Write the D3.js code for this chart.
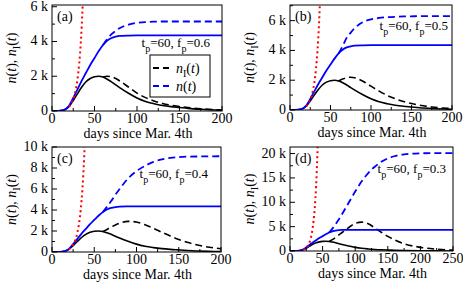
<!DOCTYPE html>
<html>
<head>
<meta charset="utf-8">
<script src="https://cdn.jsdelivr.net/npm/d3@7"></script>
<style>
    body { margin: 0; background: #fff; }
    svg { display: block; }
    text { font-family: "Liberation Serif", "Times New Roman", serif; fill: #000; }
</style>
</head>
<body>
<div id="chart"></div>
<script>
// values in thousands (k)
var solidDays = [0, 5, 10, 15, 20, 25, 30, 35, 40, 45, 50, 55, 60, 65, 70, 75, 80, 90, 100, 110, 120, 130, 140, 150, 160, 175, 200, 225, 250];
var baseN  = [0, 0.005, 0.02, 0.08, 0.3, 0.75, 1.25, 1.75, 2.2, 2.65, 3.05, 3.45, 3.8, 4.05, 4.2, 4.28, 4.32, 4.34, 4.35, 4.35, 4.35, 4.35, 4.35, 4.35, 4.35, 4.35, 4.35, 4.35, 4.35];
var baseNI = [0, 0.005, 0.02, 0.07, 0.25, 0.6, 1.0, 1.38, 1.68, 1.87, 1.97, 2.0, 1.95, 1.83, 1.68, 1.5, 1.33, 1.02, 0.75, 0.55, 0.42, 0.32, 0.25, 0.2, 0.15, 0.1, 0.05, 0.02, 0.01];

var liftDays = [60, 65, 70, 75, 80, 90, 100, 110, 120, 130, 140, 150, 160, 175, 200, 225, 250];
var liftNA  = [3.8, 4.15, 4.42, 4.62, 4.78, 4.97, 5.07, 5.12, 5.14, 5.15, 5.15, 5.15, 5.15, 5.15, 5.15];
var liftNIA = [1.95, 2.0, 1.97, 1.87, 1.72, 1.38, 1.03, 0.77, 0.58, 0.43, 0.33, 0.26, 0.2, 0.13, 0.06];
var liftNB  = [3.8, 4.3, 4.85, 5.2, 5.5, 5.9, 6.08, 6.18, 6.23, 6.26, 6.28, 6.29, 6.3, 6.3, 6.3];
var liftNIB = [1.95, 2.08, 2.17, 2.2, 2.16, 1.93, 1.6, 1.27, 0.98, 0.75, 0.57, 0.43, 0.32, 0.2, 0.1];
var liftNC  = [3.8, 4.3, 4.85, 5.45, 6.0, 7.0, 7.7, 8.2, 8.58, 8.82, 8.96, 9.04, 9.08, 9.1, 9.12];
var liftNIC = [1.95, 2.15, 2.38, 2.58, 2.75, 2.92, 2.85, 2.6, 2.25, 1.88, 1.52, 1.2, 0.93, 0.62, 0.3];
var liftND  = [3.8, 4.6, 5.5, 6.5, 7.6, 9.9, 12.2, 14.3, 16.0, 17.3, 18.3, 19.0, 19.45, 19.85, 20.05, 20.1, 20.1];
var liftNID = [1.95, 2.35, 2.8, 3.3, 3.8, 4.8, 5.7, 5.92, 5.6, 4.75, 3.85, 3.0, 2.3, 1.5, 0.75, 0.38, 0.18];

// early exponential growth (red dotted)
var expDays = [20, 22, 24, 26, 28, 30, 32, 34, 36, 38, 40, 42, 44];
var expN    = [0.25, 0.38, 0.56, 0.83, 1.23, 1.83, 2.72, 4.04, 6.0, 8.9, 13.25, 19.7, 29.3];

var panels = [
    {label: "(a)", fp: "0.6", n: liftNA, ni: liftNIA, xmax: 200, ymax: 6.1, ystep: 2, yminor: 1,
     left: 52, right: 222, top: 5, bottom: 111, annX: 210, annY: 47, legend: true},
    {label: "(b)", fp: "0.5", n: liftNB, ni: liftNIB, xmax: 200, ymax: 7.05, ystep: 2, yminor: 1,
     left: 290, right: 452, top: 5, bottom: 110, annX: 448, annY: 30},
    {label: "(c)", fp: "0.4", n: liftNC, ni: liftNIC, xmax: 200, ymax: 10, ystep: 2, yminor: 1,
     left: 52, right: 221, top: 147, bottom: 252, annX: 208, annY: 178},
    {label: "(d)", fp: "0.3", n: liftND, ni: liftNID, xmax: 250, ymax: 21.35, ystep: 5, yminor: 2.5,
     left: 290, right: 453, top: 147, bottom: 251, annX: 446, annY: 173}
];

var svg = d3.select("#chart").append("svg")
    .attr("width", 463)
    .attr("height", 285);

function zip(xs, ys) {
    return ys.map(function (v, i) { return [xs[i], v]; });
}

function drawPanel(p, k) {
    var x = d3.scaleLinear().domain([0, p.xmax]).range([p.left, p.right]);
    var y = d3.scaleLinear().domain([0, p.ymax]).range([p.bottom, p.top]);
    var line = d3.line()
        .x(function (d) { return x(d[0]); })
        .y(function (d) { return y(d[1]); })
        .curve(d3.curveMonotoneX);

    svg.append("clipPath").attr("id", "clip" + k)
        .append("rect")
        .attr("x", p.left).attr("y", p.top)
        .attr("width", p.right - p.left).attr("height", p.bottom - p.top);

    var g = svg.append("g").attr("clip-path", "url(#clip" + k + ")");

    var base = solidDays.filter(function (d) { return d <= p.xmax; });
    var lift = liftDays.slice(0, p.n.length);

    g.append("path").attr("d", line(zip(base, baseNI.slice(0, base.length))))
        .attr("fill", "none").attr("stroke", "#000").attr("stroke-width", 1.6);
    g.append("path").attr("d", line(zip(lift, p.ni)))
        .attr("fill", "none").attr("stroke", "#000").attr("stroke-width", 1.6)
        .attr("stroke-dasharray", "7,4");
    g.append("path").attr("d", line(zip(base, baseN.slice(0, base.length))))
        .attr("fill", "none").attr("stroke", "#0000ff").attr("stroke-width", 1.8);
    g.append("path").attr("d", line(zip(lift, p.n)))
        .attr("fill", "none").attr("stroke", "#0000ff").attr("stroke-width", 1.8)
        .attr("stroke-dasharray", "7,4");
    g.append("path").attr("d", line(zip(expDays, expN)))
        .attr("fill", "none").attr("stroke", "#ff0000").attr("stroke-width", 2)
        .attr("stroke-dasharray", "2,3");

    // frame
    svg.append("rect")
        .attr("x", p.left).attr("y", p.top)
        .attr("width", p.right - p.left).attr("height", p.bottom - p.top)
        .attr("fill", "none").attr("stroke", "#000").attr("stroke-width", 1);

    // inward ticks
    var xt = d3.range(0, p.xmax + 0.1, 50);
    var xm = d3.range(25, p.xmax, 50);
    var yt = d3.range(0, p.ymax + 0.01, p.ystep);
    var ym = d3.range(p.yminor, p.ymax, p.ystep);

    svg.append("g").selectAll("line").data(xt).enter().append("line")
        .attr("x1", function (d) { return x(d); }).attr("x2", function (d) { return x(d); })
        .attr("y1", p.bottom).attr("y2", p.bottom - 5).attr("stroke", "#000");
    svg.append("g").selectAll("line").data(xm).enter().append("line")
        .attr("x1", function (d) { return x(d); }).attr("x2", function (d) { return x(d); })
        .attr("y1", p.bottom).attr("y2", p.bottom - 3).attr("stroke", "#000");
    svg.append("g").selectAll("line").data(yt).enter().append("line")
        .attr("x1", p.left).attr("x2", p.left + 5)
        .attr("y1", function (d) { return y(d); }).attr("y2", function (d) { return y(d); })
        .attr("stroke", "#000");
    svg.append("g").selectAll("line").data(ym).enter().append("line")
        .attr("x1", p.left).attr("x2", p.left + 3)
        .attr("y1", function (d) { return y(d); }).attr("y2", function (d) { return y(d); })
        .attr("stroke", "#000");

    // tick labels
    svg.append("g").selectAll("text").data(xt).enter().append("text")
        .attr("x", function (d) { return x(d); })
        .attr("y", p.bottom + 12)
        .attr("text-anchor", "middle")
        .style("font-size", "14px")
        .text(function (d) { return d; });
    svg.append("g").selectAll("text").data(yt).enter().append("text")
        .attr("x", p.left - 4)
        .attr("y", function (d) { return y(d) + 4; })
        .attr("text-anchor", "end")
        .style("font-size", "14px")
        .text(function (d) { return d === 0 ? "0" : d + " k"; });

    // axis titles
    svg.append("text")
        .attr("x", (p.left + p.right) / 2 + 1)
        .attr("y", p.bottom + 27)
        .attr("text-anchor", "middle")
        .style("font-size", "14px")
        .text("days since Mar. 4th");

    var yl = svg.append("text")
        .attr("transform", "translate(" + (p.left - 36) + "," + ((p.top + p.bottom) / 2) + ") rotate(-90)")
        .attr("text-anchor", "middle")
        .style("font-size", "14px");
    yl.append("tspan").style("font-style", "italic").text("n");
    yl.append("tspan").text("(");
    yl.append("tspan").style("font-style", "italic").text("t");
    yl.append("tspan").text("), ");
    yl.append("tspan").style("font-style", "italic").text("n");
    yl.append("tspan").attr("dy", 4).style("font-size", "10px").text("I");
    yl.append("tspan").attr("dy", -4).text("(");
    yl.append("tspan").style("font-style", "italic").text("t");
    yl.append("tspan").text(")");

    // panel label
    svg.append("text")
        .attr("x", p.left + 5)
        .attr("y", p.top + 16)
        .style("font-size", "14px")
        .text(p.label);

    // parameters
    var ann = svg.append("text")
        .attr("x", p.annX)
        .attr("y", p.annY)
        .attr("text-anchor", "end")
        .style("font-size", "13px");
    ann.append("tspan").text("t");
    ann.append("tspan").attr("dy", 5).style("font-size", "10px").text("p");
    ann.append("tspan").attr("dy", -5).text("=60, f");
    ann.append("tspan").attr("dy", 5).style("font-size", "10px").text("p");
    ann.append("tspan").attr("dy", -5).text("=" + p.fp);

    if (p.legend) {
        var lg = svg.append("g");
        lg.append("rect")
            .attr("x", 150).attr("y", p.top + 50)
            .attr("width", 60).attr("height", 42)
            .attr("fill", "#fff").attr("stroke", "#000");
        var items = [["#000", true], ["#0000ff", false]];
        items.forEach(function (it, i) {
            var yy = p.top + 63 + i * 18;
            lg.append("line")
                .attr("x1", 153).attr("x2", 171).attr("y1", yy).attr("y2", yy)
                .attr("stroke", it[0]).attr("stroke-width", 1.8).attr("stroke-dasharray", "6,4");
            var t = lg.append("text").attr("x", 176).attr("y", yy + 5).style("font-size", "14px");
            t.append("tspan").style("font-style", "italic").text("n");
            if (it[1]) {
                t.append("tspan").attr("dy", 4).style("font-size", "10px").text("I");
                t.append("tspan").attr("dy", -4).text("(");
            } else {
                t.append("tspan").text("(");
            }
            t.append("tspan").style("font-style", "italic").text("t");
            t.append("tspan").text(")");
        });
    }
}

panels.forEach(drawPanel);
</script>
</body>
</html>
